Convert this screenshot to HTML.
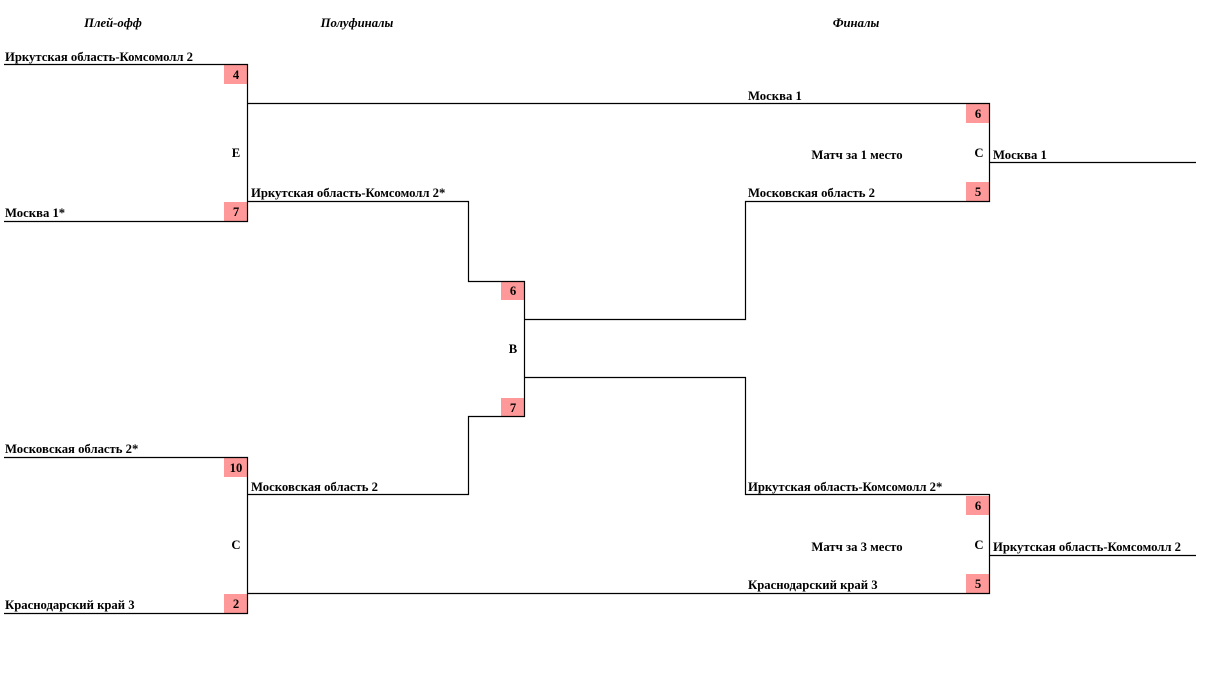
<!DOCTYPE html>
<html><head><meta charset="utf-8"><style>
body{margin:0;background:#fff}
svg{display:block}
text{font-family:"Liberation Serif",serif;font-weight:bold;font-size:12.7px;fill:#000}
.h{font-style:italic;text-anchor:middle}
.c{text-anchor:middle}
rect{fill:#ff9999}
</style></head><body>
<svg width="1205" height="677" xmlns="http://www.w3.org/2000/svg">
<text class="h" x="113" y="27">Плей-офф</text>
<text class="h" x="357" y="27">Полуфиналы</text>
<text class="h" x="856" y="27">Финалы</text>

<rect x="224" y="65" width="23" height="19"/><text class="c" x="236" y="79">4</text>
<rect x="224" y="202" width="23" height="19"/><text class="c" x="236" y="216">7</text>
<rect x="224" y="458" width="23" height="19"/><text class="c" x="236" y="472">10</text>
<rect x="224" y="594" width="23" height="19"/><text class="c" x="236" y="608">2</text>
<rect x="501" y="281" width="23" height="19"/><text class="c" x="513" y="295">6</text>
<rect x="501" y="398" width="23" height="19"/><text class="c" x="513" y="412">7</text>
<rect x="966" y="104" width="23" height="19"/><text class="c" x="978" y="118">6</text>
<rect x="966" y="182" width="23" height="19"/><text class="c" x="978" y="196">5</text>
<rect x="966" y="496" width="23" height="19"/><text class="c" x="978" y="510">6</text>
<rect x="966" y="574" width="23" height="19"/><text class="c" x="978" y="588">5</text>

<g stroke="#000" stroke-width="1.2" fill="none">
<path d="M4 64.5H247.5V221.5H4"/>
<path d="M4 457.5H247.5V613.5H4"/>
<path d="M247.5 103.5H989.5V201.5H745.5V319.5H524.5"/>
<path d="M247.5 201.5H468.5V281.5H524.5V416.5H468.5V494.5H247.5"/>
<path d="M247.5 593.5H989.5V494.5H745.5V377.5H524.5"/>
<path d="M989.5 162.5H1196"/>
<path d="M989.5 555.5H1196"/>
</g>

<text x="5" y="61">Иркутская область-Комсомолл 2</text>
<text x="5" y="217">Москва 1*</text>
<text class="c" x="236" y="157">E</text>
<text x="251" y="197">Иркутская область-Комсомолл 2*</text>
<text x="5" y="453">Московская область 2*</text>
<text x="5" y="609">Краснодарский край 3</text>
<text class="c" x="236" y="549">C</text>
<text x="251" y="491">Московская область 2</text>
<text class="c" x="513" y="353">B</text>
<text x="748" y="100">Москва 1</text>
<text x="748" y="197">Московская область 2</text>
<text class="c" x="857" y="159">Матч за 1 место</text>
<text class="c" x="979" y="157">C</text>
<text x="993" y="159">Москва 1</text>
<text x="748" y="491">Иркутская область-Комсомолл 2*</text>
<text x="748" y="589">Краснодарский край 3</text>
<text class="c" x="857" y="551">Матч за 3 место</text>
<text class="c" x="979" y="549">C</text>
<text x="993" y="551">Иркутская область-Комсомолл 2</text>
</svg>
</body></html>
